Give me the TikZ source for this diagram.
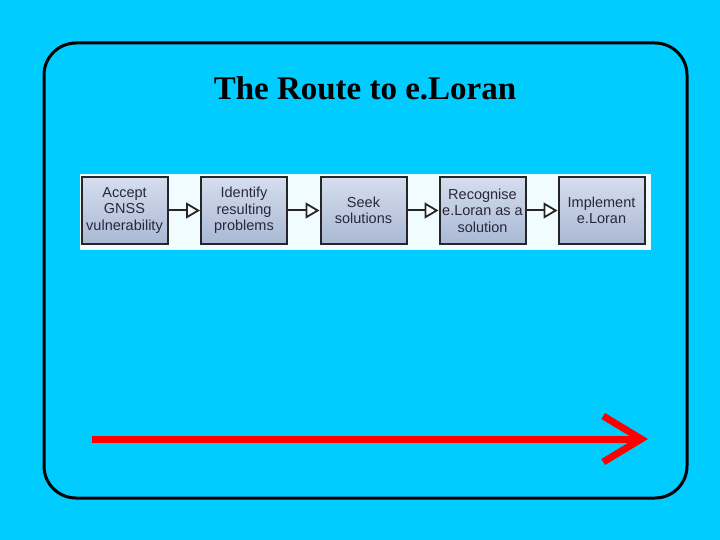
\documentclass[tikz,border=0pt]{standalone}
\usepackage{fontspec}
\setmainfont{Liberation Serif}
\newfontfamily\boxfont{Liberation Sans}
\usetikzlibrary{arrows.meta}
\definecolor{bg}{RGB}{0,204,255}
\definecolor{boxtop}{RGB}{214,222,238}
\definecolor{boxbot}{RGB}{170,184,212}
\definecolor{boxtext}{RGB}{40,40,60}
\tikzset{
 stepbox/.style={draw=black!85,line width=2pt,top color=boxtop,bottom color=boxbot,minimum width=86pt,minimum height=67pt,align=center,font=\boxfont\fontsize{14.5}{16.5}\selectfont,text=boxtext,inner sep=1pt},
 link/.style={line width=2pt,draw=black!85,-{Triangle[open,length=14pt,width=16pt,fill=white,line width=1.8pt]}}
}
\begin{document}
\begin{tikzpicture}[x=1pt,y=-1pt]
\fill[bg] (0,0) rectangle (720,540);
\useasboundingbox (0,0) rectangle (720,540);
\draw[line width=3pt,rounded corners=32pt] (44,43) rectangle (687,498);
\node (title) at (365,88) {\fontsize{33}{36}\selectfont\bfseries The Route to e.Loran};
\fill[white!94!bg] (80,174) rectangle (651,250);
\node[stepbox] (b1) at (124.5,210.5) {Accept\\GNSS\\vulnerability};
\node[stepbox] (b2) at (244,210.5) {Identify\\resulting\\problems};
\node[stepbox] (b3) at (363.5,210.5) {Seek\\solutions};
\node[stepbox] (b4) at (482.5,210.5) {Recognise\\e.Loran as a\\solution};
\node[stepbox] (b5) at (601.5,210.5) {Implement\\e.Loran};
\draw[link] (b1) -- (b2);
\draw[link] (b2) -- (b3);
\draw[link] (b3) -- (b4);
\draw[link] (b4) -- (b5);
\coordinate (rs) at (92,439);
\coordinate (re) at (648,439);
\draw[red,line width=7pt,-{Straight Barb[length=38pt,width=46pt,line width=7pt]}] (rs) -- (re);
\end{tikzpicture}
\end{document}
